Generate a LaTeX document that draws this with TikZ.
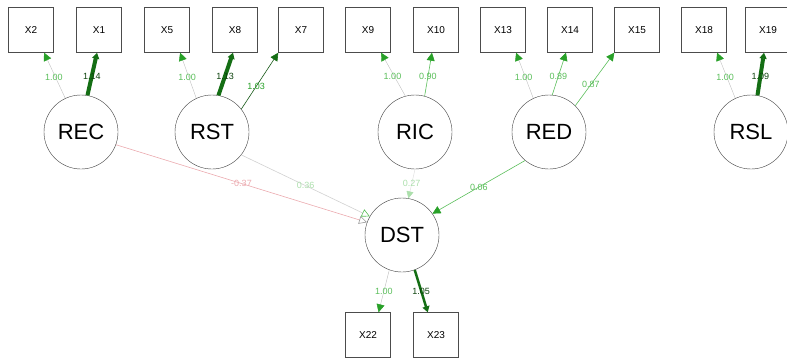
\documentclass[tikz,border=0pt]{standalone}
\usepackage{fontspec}
\setmainfont{Liberation Sans}
\usetikzlibrary{arrows.meta}
\definecolor{ldgreen}{RGB}{20,110,20}
\definecolor{lgreen}{RGB}{40,160,40}
\definecolor{lbgreen}{RGB}{90,190,90}
\definecolor{lpink}{RGB}{235,170,175}
\tikzset{
  obs_n/.style = {rectangle, draw=black!70, minimum width=45pt, minimum height=45pt,
    inner sep=0pt, font=\fontsize{10}{10}\selectfont},
  lat_n/.style = {circle, draw=black!75, minimum size=74pt, inner sep=0pt,
    font=\fontsize{22}{22}\selectfont},
  wlab/.style = {font=\fontsize{9}{9}\selectfont, text=lbgreen, inner sep=1pt},
  fixload/.style = {draw=black!25, line width=0.4pt, -{Triangle[length=8pt,width=8pt,color=lgreen]}},
  bigload/.style = {draw=ldgreen, line width=4pt, -{Triangle[length=6pt,width=7pt,color=ldgreen]}},
  midload/.style = {draw=black!45!lgreen, line width=0.6pt, -{Triangle[length=8pt,width=8pt,color=ldgreen]}},
  lowload/.style = {draw=lbgreen, line width=0.6pt, -{Triangle[length=8pt,width=8pt,color=lgreen]}}}

\begin{document}
\begin{tikzpicture}[x=1pt,y=-1pt]
\useasboundingbox (0,0) rectangle (787,361);

% indicators
\node [obs_n] (X2) at (31,30) {X2};
\node [obs_n] (X1) at (99,30) {X1};
\node [obs_n] (X5) at (167,30) {X5};
\node [obs_n] (X8) at (235,30) {X8};
\node [obs_n] (X7) at (301,30) {X7};
\node [obs_n] (X9) at (368,30) {X9};
\node [obs_n] (X10) at (436,30) {X10};
\node [obs_n] (X13) at (503,30) {X13};
\node [obs_n] (X14) at (570,30) {X14};
\node [obs_n] (X15) at (637,30) {X15};
\node [obs_n] (X18) at (704,30) {X18};
\node [obs_n] (X19) at (768,30) {X19};
\node [obs_n] (X22) at (368,335) {X22};
\node [obs_n] (X23) at (436,335) {X23};

% latent variables
\node [lat_n] (REC) at (81,132) {REC};
\node [lat_n] (RST) at (212,132) {RST};
\node [lat_n] (RIC) at (415,132) {RIC};
\node [lat_n] (RED) at (549,132) {RED};
\node [lat_n] (RSL) at (751,132) {RSL};
\node [lat_n] (DST) at (402,235) {DST};

% loadings
\draw [fixload] (REC.115) -- node[wlab, pos=0.45, left=-8pt] {1.00} (X2.-60);
\draw [bigload] (REC.80) -- node[wlab, pos=0.45, text=ldgreen!60!black] {1.14} (X1.-95);
\draw [fixload] (RST.115) -- node[wlab, pos=0.45, left=-8pt] {1.00} (X5.-60);
\draw [bigload] (RST.80) -- node[wlab, pos=0.45, text=ldgreen!60!black] {1.13} (X8.-95);
\draw [midload] (RST.38) -- node[wlab, pos=0.4, text=lgreen] {1.03} (X7.south west);
\draw [fixload] (RIC.105) -- node[wlab, pos=0.45, left=-8pt] {1.00} (X9.-60);
\draw [lowload] (RIC.75) -- node[wlab, pos=0.45] {0.90} (X10.-100);
\draw [fixload] (RED.115) -- node[wlab, pos=0.45, left=-8pt] {1.00} (X13.-60);
\draw [lowload] (RED.85) -- node[wlab, pos=0.45] {0.89} (X14.-100);
\draw [lowload] (RED.45) -- node[wlab, pos=0.4] {0.87} (X15.south west);
\draw [fixload] (RSL.115) -- node[wlab, pos=0.45, left=-8pt] {1.00} (X18.-60);
\draw [bigload] (RSL.80) -- node[wlab, pos=0.45, text=ldgreen!60!black] {1.09} (X19.-100);

% structural paths
\draw [draw=lpink, line width=0.6pt, -{Triangle[open, length=8pt, width=8pt, color=black!40]}]
  (REC.-20) -- node[wlab, pos=0.5, text=lpink] {-0.37} (DST.160);
\draw [draw=black!18, line width=0.6pt, -{Triangle[open, length=8pt, width=8pt, color=lbgreen]}]
  (RST.-38) -- node[wlab, pos=0.5, text=lbgreen!50] {0.36} (DST.150);
\draw [draw=black!12, line width=0.5pt, -{Triangle[length=7pt, width=7pt, color=lbgreen!50]}]
  (RIC.-90) -- node[wlab, pos=0.5, text=lbgreen!50] {0.27} (DST.80);
\draw [draw=lbgreen, line width=0.6pt, -{Triangle[length=8pt, width=8pt, color=lgreen]}]
  (RED.-130) -- node[wlab, pos=0.5] {0.06} (DST.35);

% DST indicators
\draw [fixload] (DST.-110) -- node[wlab, pos=0.5] {1.00} (X22.65);
\draw [bigload, line width=2.5pt] (DST.-70) -- node[wlab, pos=0.5, text=ldgreen!60!black] {1.05} (X23.110);
\end{tikzpicture}
\end{document}
